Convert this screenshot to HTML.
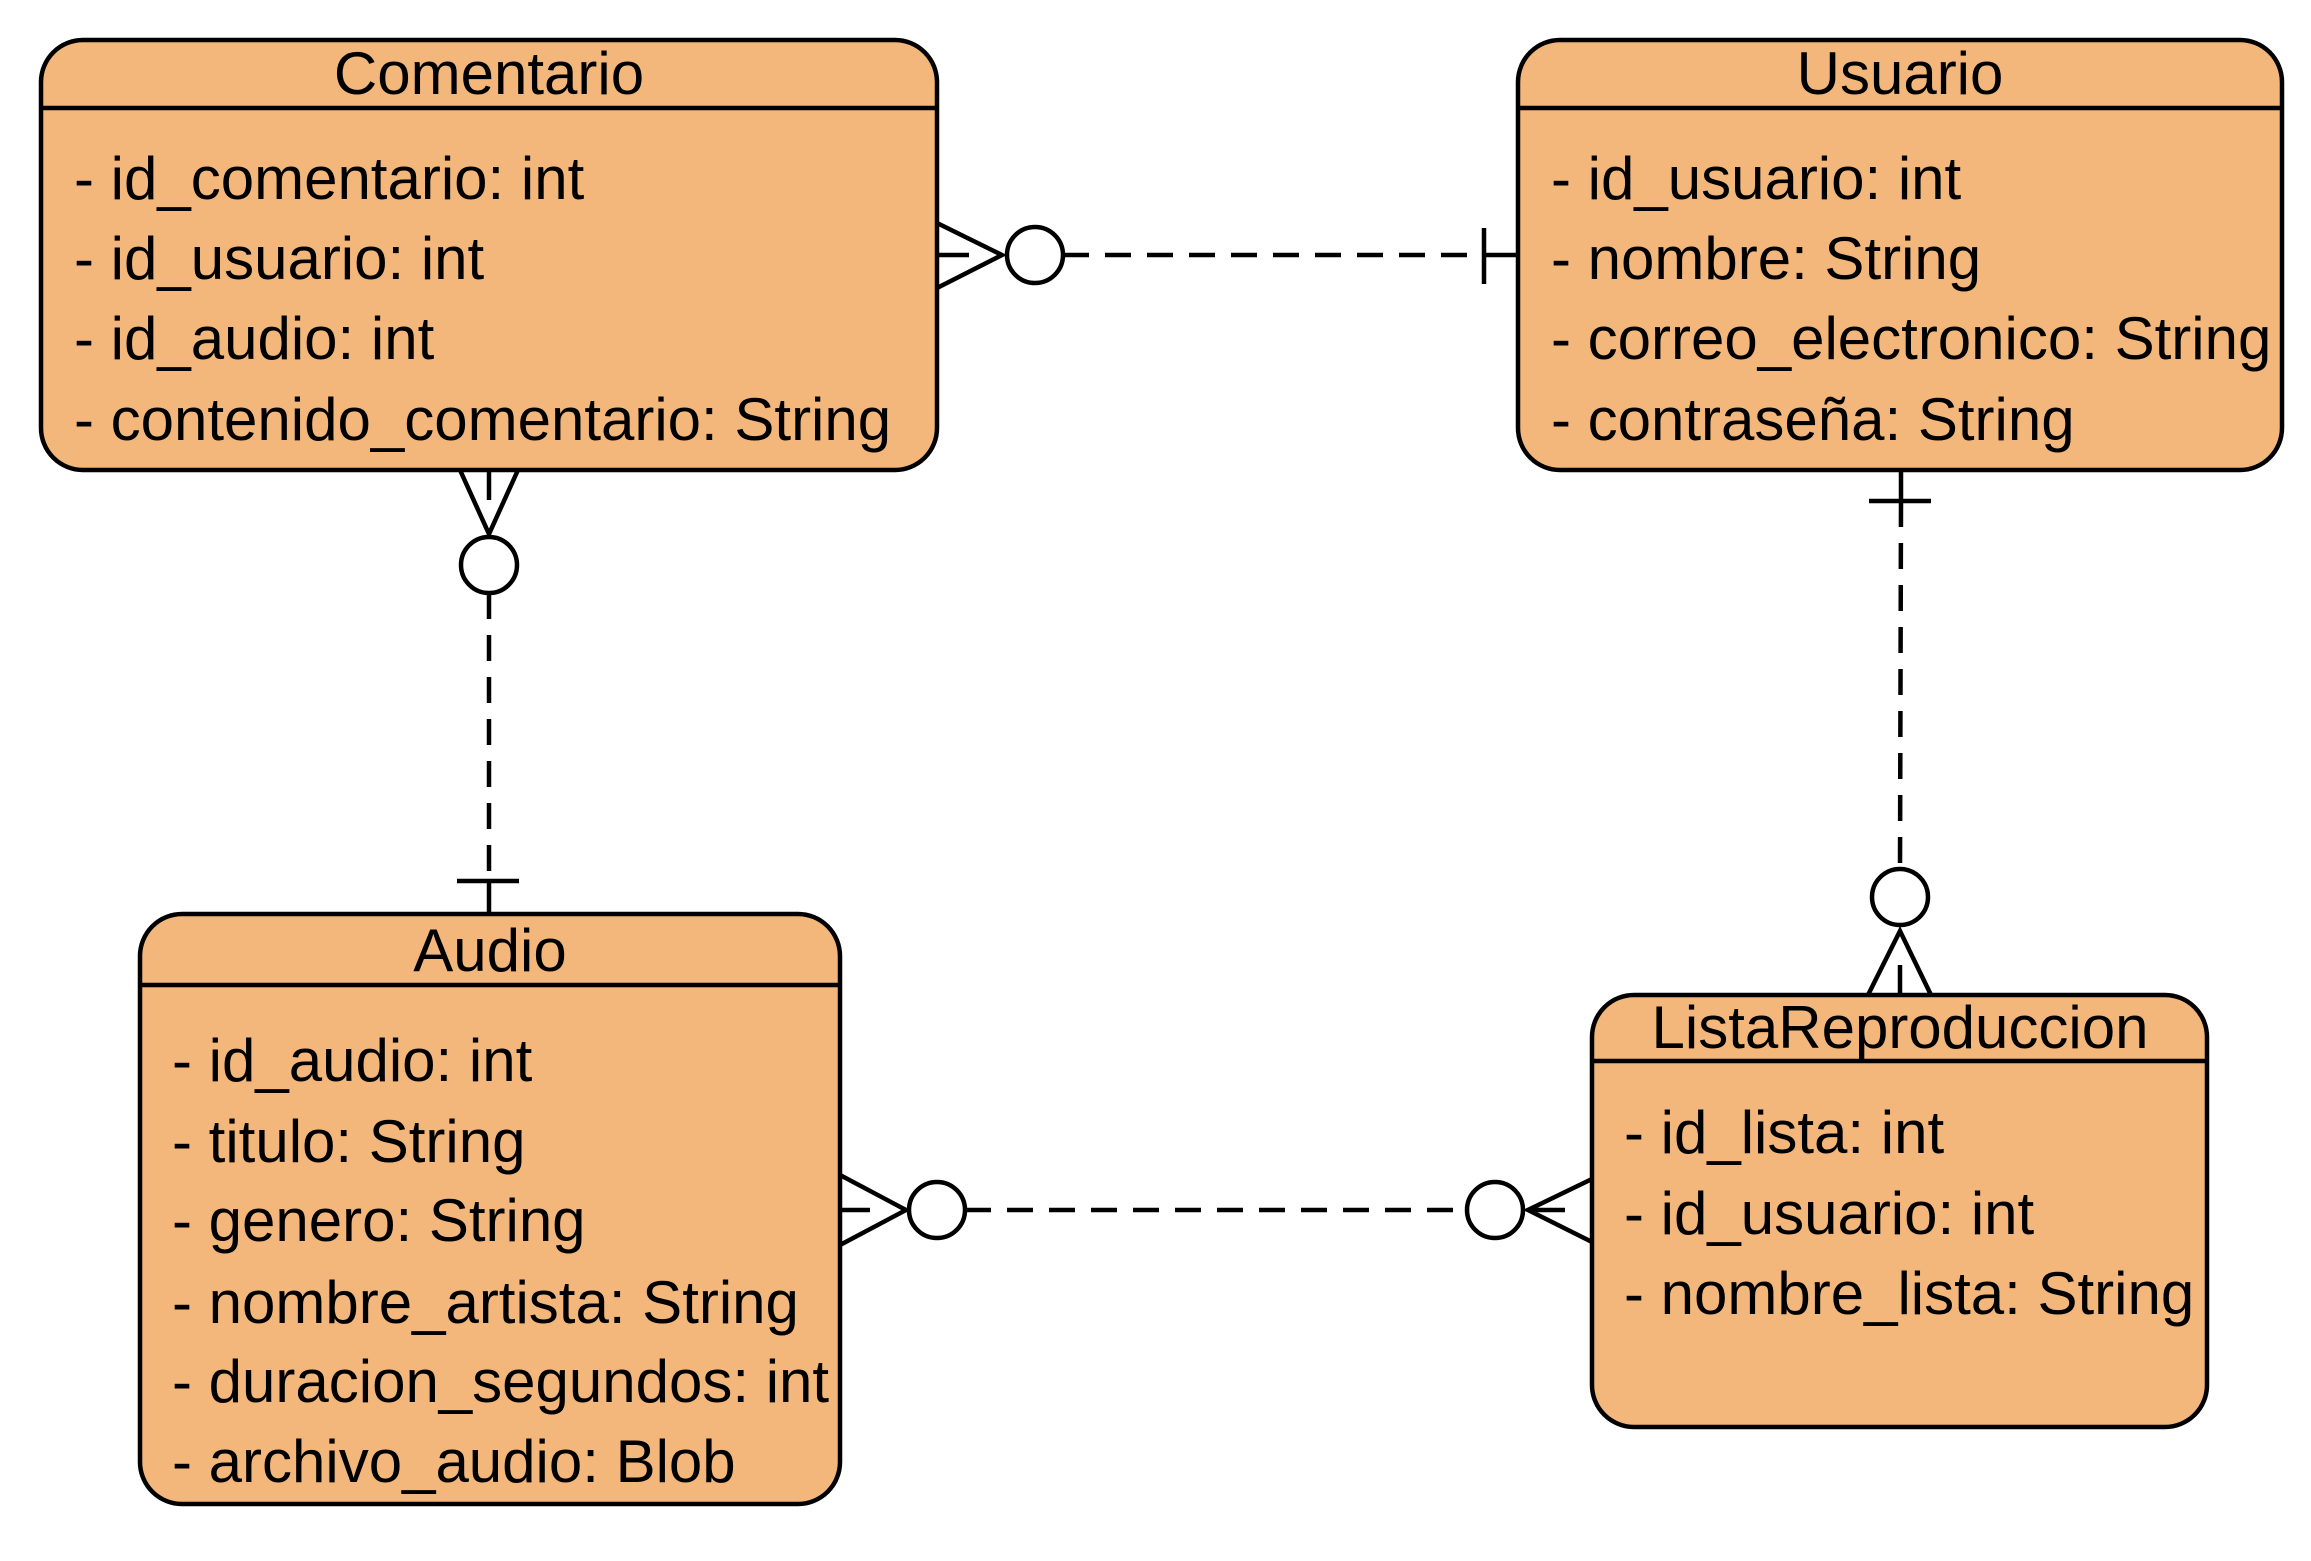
<!DOCTYPE html>
<html><head><meta charset="utf-8"><style>
html,body{margin:0;padding:0;background:#fff}
svg{display:block}
text{font-family:"Liberation Sans",Arial,sans-serif;font-size:60px;fill:#000}
</style></head><body>
<svg width="2311" height="1561" viewBox="0 0 2311 1561" xmlns="http://www.w3.org/2000/svg">
<g stroke="#000" stroke-width="4.5" fill="#f3b77c">
<rect x="41" y="40" width="896" height="430" rx="42"/>
<rect x="1518" y="40" width="764" height="430" rx="42"/>
<rect x="140" y="914" width="700" height="590" rx="42"/>
<rect x="1592" y="995" width="615" height="432" rx="42"/>
</g>
<g stroke="#000" stroke-width="4.5">
<line x1="41" y1="108" x2="937" y2="108"/>
<line x1="1518" y1="108" x2="2282" y2="108"/>
<line x1="140" y1="985" x2="840" y2="985"/>
<line x1="1592" y1="1061" x2="2207" y2="1061"/>
</g>
<g fill="none" stroke="#000" stroke-width="4.5">
<polyline points="937,223 1002,255 937,288"/>
<line x1="939" y1="255" x2="969" y2="255"/>
<circle cx="1035" cy="255" r="28" fill="#fff"/>
<line x1="1063" y1="255" x2="1484" y2="255" stroke-dasharray="26,16"/>
<line x1="1484" y1="255" x2="1518" y2="255"/>
<line x1="1484" y1="228" x2="1484" y2="284"/>
<polyline points="460,470 489,534 518,470"/>
<line x1="489" y1="472" x2="489" y2="500"/>
<circle cx="489" cy="565" r="28" fill="#fff"/>
<line x1="489" y1="593" x2="489" y2="881" stroke-dasharray="26,16"/>
<line x1="489" y1="881" x2="489" y2="914"/>
<line x1="457" y1="881" x2="519" y2="881"/>
<line x1="1901" y1="470" x2="1901" y2="501"/>
<line x1="1869" y1="501" x2="1931" y2="501"/>
<line x1="1901" y1="501" x2="1900" y2="868" stroke-dasharray="26,16"/>
<circle cx="1900" cy="897" r="28" fill="#fff"/>
<polyline points="1868,995 1900,931 1931,995"/>
<line x1="1900" y1="965" x2="1900" y2="993"/>
<polyline points="840,1175 906,1210 840,1245"/>
<line x1="842" y1="1210" x2="870" y2="1210"/>
<circle cx="937" cy="1210" r="28" fill="#fff"/>
<line x1="965" y1="1210" x2="1467" y2="1210" stroke-dasharray="26,16"/>
<circle cx="1495" cy="1210" r="28" fill="#fff"/>
<polyline points="1592,1179 1528,1210 1592,1242"/>
<line x1="1530" y1="1210" x2="1565" y2="1210"/>
</g>
<g text-anchor="middle">
<text x="489" y="94">Comentario</text>
<text x="1900" y="94">Usuario</text>
<text x="490" y="971">Audio</text>
<text x="1900" y="1048">ListaReproduccion</text>
</g>
<g>
<text x="74" y="199">- id_comentario: int</text>
<text x="74" y="279">- id_usuario: int</text>
<text x="74" y="359">- id_audio: int</text>
<text x="74" y="440">- contenido_comentario: String</text>
<text x="1551" y="199">- id_usuario: int</text>
<text x="1551" y="279">- nombre: String</text>
<text x="1551" y="359">- correo_electronico: String</text>
<text x="1551" y="440">- contraseña: String</text>
<text x="172" y="1081">- id_audio: int</text>
<text x="172" y="1162">- titulo: String</text>
<text x="172" y="1241">- genero: String</text>
<text x="172" y="1323">- nombre_artista: String</text>
<text x="172" y="1402">- duracion_segundos: int</text>
<text x="172" y="1482">- archivo_audio: Blob</text>
<text x="1624" y="1153">- id_lista: int</text>
<text x="1624" y="1234">- id_usuario: int</text>
<text x="1624" y="1314">- nombre_lista: String</text>
</g>
</svg>
</body></html>
